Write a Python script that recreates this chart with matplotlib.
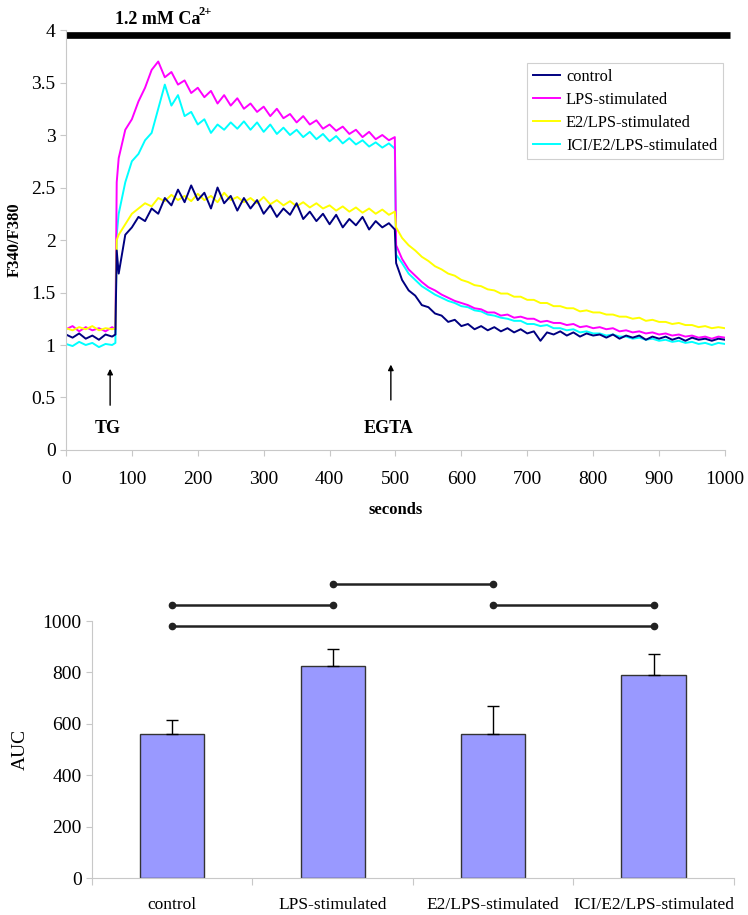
import matplotlib
matplotlib.use("Agg")
import matplotlib.pyplot as plt
import numpy as np
from matplotlib.ticker import FormatStrFormatter, MultipleLocator

plt.rcParams['font.family'] = ['Liberation Serif', 'DejaVu Serif']

# ---- trace data (F340/F380 ratio) ----
times = [0, 10, 20, 30, 40, 50, 60, 70, 75, 77,
         80, 90, 100, 110, 120, 130, 140, 150, 160, 170,
         180, 190, 200, 210, 220, 230, 240, 250, 260, 270,
         280, 290, 300, 310, 320, 330, 340, 350, 360, 370,
         380, 390, 400, 410, 420, 430, 440, 450, 460, 470,
         480, 490, 499, 501,
         510, 520, 530, 540, 550, 560, 570, 580, 590, 600,
         610, 620, 630, 640, 650, 660, 670, 680, 690, 700,
         710, 720, 730, 740, 750, 760, 770, 780, 790, 800,
         810, 820, 830, 840, 850, 860, 870, 880, 890, 900,
         910, 920, 930, 940, 950, 960, 970, 980, 990, 1000]

control = [1.10, 1.07, 1.11, 1.06, 1.09, 1.05, 1.10, 1.08, 1.10, 1.90,
           1.68, 2.05, 2.12, 2.22, 2.18, 2.30, 2.25, 2.40, 2.33, 2.48,
           2.36, 2.52, 2.38, 2.45, 2.30, 2.50, 2.35, 2.42, 2.28, 2.40,
           2.30, 2.38, 2.25, 2.33, 2.22, 2.30, 2.24, 2.35, 2.20, 2.27,
           2.18, 2.25, 2.15, 2.24, 2.12, 2.20, 2.14, 2.22, 2.10, 2.18,
           2.12, 2.16, 2.10, 1.78,
           1.62, 1.52, 1.47, 1.38, 1.36, 1.30, 1.28, 1.22, 1.24, 1.18,
           1.20, 1.15, 1.18, 1.14, 1.17, 1.13, 1.16, 1.12, 1.15, 1.11,
           1.13, 1.04, 1.12, 1.10, 1.13, 1.09, 1.12, 1.08, 1.11, 1.09,
           1.10, 1.07, 1.10, 1.06, 1.09, 1.07, 1.09, 1.05, 1.08, 1.06,
           1.08, 1.05, 1.07, 1.04, 1.07, 1.05, 1.06, 1.04, 1.06, 1.05]

lps = [1.15, 1.18, 1.13, 1.17, 1.14, 1.16, 1.13, 1.17, 1.15, 2.55,
       2.78, 3.05, 3.15, 3.32, 3.45, 3.62, 3.70, 3.55, 3.60, 3.48,
       3.52, 3.40, 3.45, 3.36, 3.42, 3.30, 3.38, 3.28, 3.35, 3.25,
       3.30, 3.22, 3.27, 3.18, 3.25, 3.16, 3.20, 3.12, 3.18, 3.10,
       3.14, 3.06, 3.10, 3.04, 3.08, 3.01, 3.05, 2.98, 3.03, 2.96,
       3.00, 2.95, 2.98, 1.95,
       1.82, 1.72, 1.66, 1.60, 1.55, 1.52, 1.48, 1.45, 1.42, 1.40,
       1.38, 1.35, 1.34, 1.31, 1.31, 1.28, 1.29, 1.26, 1.27, 1.25,
       1.25, 1.22, 1.23, 1.21, 1.21, 1.19, 1.20, 1.17, 1.18, 1.16,
       1.17, 1.15, 1.16, 1.13, 1.14, 1.12, 1.13, 1.11, 1.12, 1.10,
       1.11, 1.09, 1.10, 1.08, 1.09, 1.07, 1.08, 1.06, 1.08, 1.07]

e2_lps = [1.16, 1.14, 1.17, 1.15, 1.18, 1.14, 1.16, 1.15, 1.16, 2.00,
          2.05, 2.15, 2.25, 2.30, 2.35, 2.32, 2.40, 2.37, 2.43, 2.38,
          2.42, 2.37, 2.44, 2.38, 2.42, 2.36, 2.45, 2.38, 2.41, 2.36,
          2.40, 2.35, 2.41, 2.34, 2.38, 2.33, 2.37, 2.32, 2.36, 2.31,
          2.35, 2.30, 2.33, 2.28, 2.32, 2.27, 2.31, 2.26, 2.30, 2.25,
          2.29, 2.24, 2.27, 2.12,
          2.02, 1.95, 1.90, 1.84, 1.80, 1.75, 1.72, 1.68, 1.66, 1.62,
          1.60, 1.57, 1.56, 1.53, 1.52, 1.49, 1.49, 1.46, 1.46, 1.43,
          1.43, 1.40, 1.40, 1.37, 1.37, 1.35, 1.35, 1.32, 1.33, 1.31,
          1.31, 1.29, 1.29, 1.27, 1.27, 1.25, 1.26, 1.23, 1.24, 1.22,
          1.22, 1.20, 1.21, 1.19, 1.19, 1.17, 1.18, 1.16, 1.17, 1.16]

ici_e2_lps = [1.01, 0.99, 1.03, 1.00, 1.02, 0.98, 1.01, 1.00, 1.02, 2.05,
              2.25, 2.55, 2.75, 2.82, 2.95, 3.02, 3.25, 3.48, 3.28, 3.38,
              3.18, 3.22, 3.10, 3.15, 3.02, 3.10, 3.05, 3.12, 3.06, 3.13,
              3.05, 3.12, 3.03, 3.10, 3.01, 3.07, 3.00, 3.05, 2.98, 3.03,
              2.96, 3.01, 2.94, 2.99, 2.92, 2.97, 2.91, 2.95, 2.89, 2.93,
              2.88, 2.92, 2.87, 1.86,
              1.78, 1.68, 1.62, 1.56, 1.52, 1.48, 1.45, 1.42, 1.40, 1.37,
              1.36, 1.33, 1.32, 1.29, 1.28, 1.26, 1.25, 1.23, 1.23, 1.20,
              1.20, 1.18, 1.19, 1.16, 1.16, 1.14, 1.15, 1.12, 1.13, 1.11,
              1.11, 1.09, 1.10, 1.08, 1.08, 1.06, 1.07, 1.05, 1.06, 1.04,
              1.05, 1.03, 1.04, 1.02, 1.03, 1.01, 1.02, 1.00, 1.02, 1.01]

# ---- AUC bar data ----
groups = ["control", "LPS-stimulated", "E2/LPS-stimulated", "ICI/E2/LPS-stimulated"]
auc = [560, 825, 560, 788]
auc_err = [55, 68, 110, 83]
# significance pairs (group index a, group index b, height)
sig_pairs = [(1, 2, 1145), (0, 1, 1062), (2, 3, 1062), (0, 3, 980)]

fig = plt.figure(figsize=(7.48, 9.15), dpi=100)
grey = '#c8c8c8'

# ---------------- top: traces ----------------
ax1 = fig.add_axes([0.0882, 0.5082, 0.881, 0.459])
ax1.plot(times, ici_e2_lps, color='#00ffff', lw=1.4, label='ICI/E2/LPS-stimulated')
ax1.plot(times, lps, color='#ff00ff', lw=1.4, label='LPS-stimulated')
ax1.plot(times, e2_lps, color='#ffff00', lw=1.4, label='E2/LPS-stimulated')
ax1.plot(times, control, color='#000080', lw=1.4, label='control')

ax1.set_xlim(0, 1000)
ax1.set_ylim(0, 4)
ax1.xaxis.set_major_locator(MultipleLocator(100))
ax1.yaxis.set_major_locator(MultipleLocator(0.5))
ax1.yaxis.set_major_formatter(FormatStrFormatter('%g'))
for s in ['top', 'right']:
    ax1.spines[s].set_visible(False)
for s in ['left', 'bottom']:
    ax1.spines[s].set_color(grey)
ax1.tick_params(axis='both', colors=grey, labelcolor='black', labelsize=14, length=4)
ax1.tick_params(axis='x', pad=11)
ax1.set_xlabel('seconds', fontsize=12, fontweight='bold', labelpad=10)
ax1.set_ylabel('F340/F380', fontsize=12, fontweight='bold', labelpad=6)

handles, labels = ax1.get_legend_handles_labels()
order = [3, 1, 2, 0]
leg = ax1.legend([handles[i] for i in order], [labels[i] for i in order],
                 loc='upper right', bbox_to_anchor=(0.997, 0.921), borderaxespad=0,
                 fontsize=11.8, fancybox=False, framealpha=1,
                 handlelength=1.65, handletextpad=0.35, labelspacing=0.42, borderpad=0.35)
leg.get_frame().set_linewidth(0.8)
leg.get_frame().set_edgecolor('#d0d0d0')

# Ca2+ bar and annotations
ax1.plot([0, 1008], [3.95, 3.95], color='black', lw=4.8, clip_on=False, solid_capstyle='butt')
ax1.text(74, 4.1, '1.2 mM Ca', fontsize=13, fontweight='bold',
         ha='left', va='center', clip_on=False)
ax1.text(201, 4.17, '2+', fontsize=9, fontweight='bold',
         ha='left', va='center', clip_on=False)
ax1.annotate('', xy=(67, 0.8), xytext=(67, 0.4),
             arrowprops=dict(arrowstyle='-|>', color='black', lw=1, mutation_scale=8))
ax1.text(63, 0.2, 'TG', fontsize=13, fontweight='bold', ha='center', va='center')
ax1.annotate('', xy=(493, 0.84), xytext=(493, 0.45),
             arrowprops=dict(arrowstyle='-|>', color='black', lw=1, mutation_scale=8))
ax1.text(490, 0.2, 'EGTA', fontsize=13, fontweight='bold', ha='center', va='center')

# ---------------- bottom: AUC bars ----------------
ax2 = fig.add_axes([0.123, 0.0404, 0.858, 0.2809])
x = np.arange(len(groups)) + 0.5
ax2.bar(x, auc, width=0.4, color='#9999ff', edgecolor='#333333', lw=1, zorder=2)
ax2.errorbar(x, auc, yerr=[np.zeros(len(auc)), auc_err], fmt='none',
             ecolor='black', elinewidth=1, capsize=4, capthick=1, zorder=3)
for a, b, h in sig_pairs:
    ax2.plot([x[a], x[b]], [h, h], color='#222222', lw=1.8, marker='o', ms=4.5,
             clip_on=False)

ax2.set_xlim(0, len(groups))
ax2.set_ylim(0, 1000)
ax2.yaxis.set_major_locator(MultipleLocator(200))
ax2.set_xticks(np.arange(len(groups) + 1))
ax2.set_xticklabels([])
ax2.set_xticks(x, minor=True)
ax2.set_xticklabels(groups, minor=True, fontsize=12.5)
ax2.tick_params(axis='x', which='minor', length=0, pad=14)
ax2.tick_params(axis='x', which='major', colors=grey, length=5)
ax2.tick_params(axis='y', colors=grey, labelcolor='black', labelsize=14, length=4)
for s in ['top', 'right']:
    ax2.spines[s].set_visible(False)
for s in ['left', 'bottom']:
    ax2.spines[s].set_color(grey)
ax2.set_ylabel('AUC', fontsize=14, labelpad=10)

fig.savefig('out.png', dpi=100)
